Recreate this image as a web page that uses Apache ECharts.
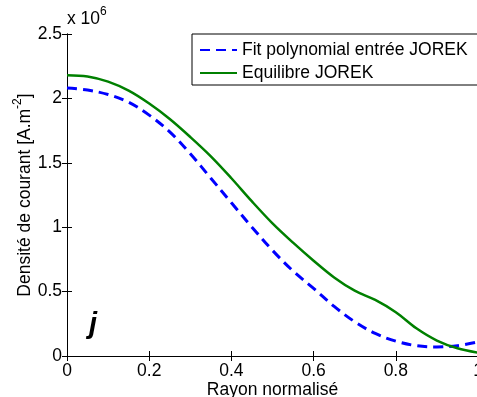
<!DOCTYPE html>
<html>
<head>
<meta charset="utf-8">
<script src="https://cdn.jsdelivr.net/npm/echarts@6/dist/echarts.min.js"></script>
<style>
html,body{margin:0;padding:0;background:#fff;}
#c{width:477px;height:397px;}
</style>
</head>
<body>
<div id="c"></div>
<script>
// Normalised radius
var rayon = [0, 0.05, 0.1, 0.15, 0.2, 0.25, 0.3, 0.35, 0.4, 0.45, 0.5, 0.55, 0.6, 0.65, 0.7, 0.75, 0.8, 0.85, 0.9, 0.95, 1.0];
// Current density, units of 10^6 A.m^-2
var fitPoly = [2.08, 2.065, 2.03, 1.97, 1.87, 1.74, 1.57, 1.38, 1.19, 1.00, 0.82, 0.66, 0.525, 0.385, 0.266, 0.175, 0.115, 0.08, 0.07, 0.08, 0.11];
var equilibre = [2.18, 2.17, 2.13, 2.06, 1.96, 1.84, 1.70, 1.55, 1.38, 1.20, 1.03, 0.88, 0.74, 0.61, 0.507, 0.435, 0.34, 0.215, 0.12, 0.06, 0.026];
var seriesNames = ['Fit polynomial entrée JOREK', 'Equilibre JOREK'];
var xTicks = [0, 0.2, 0.4, 0.6, 0.8, 1];
var yTicks = [0, 0.5, 1, 1.5, 2, 2.5];

function pairs(xs, ys) { return xs.map(function (x, i) { return [x, ys[i]]; }); }

var FONT = 'Liberation Sans, Arial, sans-serif';
var FS = 17.5;
var axisCommon = {
  axisLine: { show: true, lineStyle: { color: '#000', width: 1 } },
  axisTick: { show: true, inside: true, length: 5, lineStyle: { color: '#000', width: 1 } },
  splitLine: { show: false }
};

var chart = echarts.init(document.getElementById('c'), null, { renderer: 'canvas' });
chart.setOption({
  animation: false,
  backgroundColor: '#fff',
  grid: { left: 67, top: 34, width: 411, height: 322, containLabel: false, outerBoundsMode: 'none' },
  xAxis: [
    Object.assign({}, axisCommon, {
      type: 'value', min: xTicks[0], max: xTicks[xTicks.length - 1], interval: 0.2, position: 'bottom',
      name: 'Rayon normalisé', nameLocation: 'middle', nameGap: 25, nameMoveOverlap: false,
      nameTextStyle: { fontFamily: FONT, fontSize: FS, color: '#000' },
      axisLabel: { fontFamily: FONT, fontSize: FS, color: '#000', margin: 6, hideOverlap: false, showMaxLabel: true, formatter: function (v) { return String(+v.toFixed(1)); } }
    }),
    Object.assign({}, axisCommon, {
      type: 'value', min: 0, max: 1, interval: 0.2, position: 'top', axisLabel: { show: false }
    })
  ],
  yAxis: [
    Object.assign({}, axisCommon, {
      type: 'value', min: yTicks[0], max: yTicks[yTicks.length - 1], interval: 0.5, position: 'left',
      name: '{a|Densité de courant [A.m}{s|-2}{a|]}', nameLocation: 'middle', nameGap: 29, nameRotate: 90, nameMoveOverlap: false,
      nameTextStyle: {
        fontFamily: FONT, fontSize: FS, color: '#000',
        rich: {
          a: { fontFamily: FONT, fontSize: FS, color: '#000', lineHeight: 26 },
          s: { fontFamily: FONT, fontSize: 12, color: '#000', lineHeight: 12, verticalAlign: 'top' }
        }
      },
      axisLabel: { fontFamily: FONT, fontSize: FS, color: '#000', margin: 5, formatter: function (v) { return String(+v.toFixed(1)); } }
    }),
    Object.assign({}, axisCommon, {
      type: 'value', min: 0, max: 2.5, interval: 0.5, position: 'right', axisLabel: { show: false }
    })
  ],
  legend: {
    left: 192, top: 34, orient: 'vertical',
    padding: [6, 40, 2, 7],
    backgroundColor: '#fff', borderColor: '#000', borderWidth: 1, borderRadius: 0,
    itemWidth: 37, itemHeight: 20, itemGap: 3,
    itemStyle: { opacity: 0 },
    textStyle: { fontFamily: FONT, fontSize: FS, color: '#000', lineHeight: 20 },
    data: seriesNames
  },
  graphic: [
    {
      type: 'text', left: 67, top: 6, z: 10,
      style: {
        text: '{a|x 10}{s|6}',
        rich: {
          a: { fontFamily: FONT, fontSize: FS, fill: '#000', lineHeight: 26 },
          s: { fontFamily: FONT, fontSize: 12, fill: '#000', lineHeight: 12, verticalAlign: 'top' }
        }
      }
    },
    {
      type: 'text', left: 89, top: 310, z: 10,
      style: { text: 'j', fontFamily: FONT, fontSize: 29, fontWeight: 'bold', fontStyle: 'italic', fill: '#000' }
    }
  ],
  series: [
    {
      name: seriesNames[0], type: 'line', data: pairs(rayon, fitPoly), smooth: 0.35,
      showSymbol: false, symbol: 'none', clip: true,
      lineStyle: { color: '#0000ff', width: 3, type: [10, 6] },
      itemStyle: { color: '#0000ff' }
    },
    {
      name: seriesNames[1], type: 'line', data: pairs(rayon, equilibre), smooth: 0.35,
      showSymbol: false, symbol: 'none', clip: true,
      lineStyle: { color: '#008000', width: 2.5 },
      itemStyle: { color: '#008000' }
    }
  ]
});
</script>
</body>
</html>
